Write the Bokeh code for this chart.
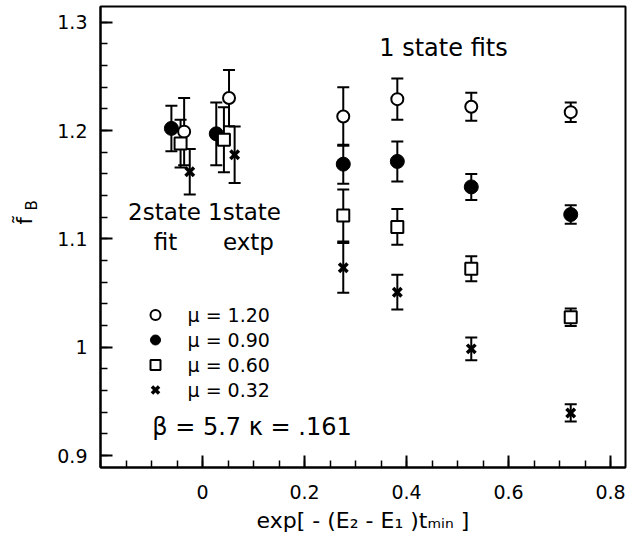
import math
from bokeh.plotting import figure
from bokeh.layouts import row
from bokeh.core.properties import value
from bokeh.models import (ColumnDataSource, Whisker, TeeHead, FixedTicker, CustomJSTickFormatter,
                          Label, Legend, LegendItem, Range1d)
from bokeh.embed import file_html
from bokeh.resources import INLINE

# ---------------- data ----------------
mu_labels = ["\u03bc = 1.20", "\u03bc = 0.90", "\u03bc = 0.60", "\u03bc = 0.32"]

mu120_x = [-0.036, 0.052, 0.276, 0.382, 0.527, 0.722]
mu120_y = [1.199, 1.230, 1.213, 1.229, 1.222, 1.217]
mu120_err = [0.031, 0.026, 0.027, 0.019, 0.013, 0.009]

mu090_x = [-0.061, 0.027, 0.276, 0.382, 0.527, 0.722]
mu090_y = [1.202, 1.197, 1.169, 1.1715, 1.148, 1.1225]
mu090_err = [0.021, 0.029, 0.018, 0.0185, 0.012, 0.0085]

mu060_x = [-0.043, 0.042, 0.276, 0.382, 0.527, 0.722]
mu060_y = [1.188, 1.1915, 1.1216, 1.111, 1.0724, 1.0277]
mu060_err = [0.022, 0.030, 0.024, 0.0165, 0.0115, 0.008]

mu032_x = [-0.025, 0.063, 0.276, 0.382, 0.527, 0.722]
mu032_y = [1.162, 1.1777, 1.0733, 1.0508, 0.9985, 0.9394]
mu032_err = [0.021, 0.026, 0.023, 0.016, 0.0105, 0.008]

x_major = [0, 0.2, 0.4, 0.6, 0.8]
x_minor = [round(-0.2 + 0.05 * i, 2) for i in range(21)]
y_major = [0.9, 1.0, 1.1, 1.2, 1.3]
y_minor = [round(0.9 + 0.02 * i, 2) for i in range(21)]

FONT = "DejaVu Sans"
H = 538
LW = 45  # width of the strip holding the y-axis title

# ---------------- y-axis title strip (f~ with subscript B) ----------------
ylab = figure(width=LW, height=H, x_range=Range1d(0, LW), y_range=Range1d(0, H),
              output_backend="svg", toolbar_location=None,
              x_axis_location=None, y_axis_location=None, min_border=0)
ylab.grid.visible = False
ylab.outline_line_color = None
ylab.background_fill_color = "white"
ylab.border_fill_color = "white"
ylab.text(x=[24.5], y=[H - 250.0], text=["f\u0303"], angle=math.pi / 2,
          text_font=value(FONT), text_font_size="21px", text_color="black",
          text_align="center", text_baseline="middle")
ylab.text(x=[31.0], y=[H - 232.0], text=["B"], angle=math.pi / 2,
          text_font=value(FONT), text_font_size="15px", text_color="black",
          text_align="center", text_baseline="middle")

# ---------------- main plot ----------------
p = figure(width=640 - LW, height=H,
           x_range=Range1d(-0.2, 0.8294), y_range=Range1d(0.889, 1.3145),
           output_backend="svg", toolbar_location=None,
           min_border_left=100 - LW, min_border_right=15, min_border_top=6, min_border_bottom=71)
p.grid.visible = False
p.background_fill_color = "white"
p.border_fill_color = "white"
p.outline_line_color = "black"
p.outline_line_width = 2

fmt = CustomJSTickFormatter(code="return String(Math.round(tick*100)/100);")

p.xaxis.ticker = FixedTicker(ticks=x_major, minor_ticks=x_minor)
p.yaxis.ticker = FixedTicker(ticks=y_major, minor_ticks=y_minor)
for ax in (p.xaxis[0], p.yaxis[0]):
    ax.formatter = fmt
    ax.axis_line_width = 2
    ax.axis_line_color = "black"
    ax.major_tick_in = 12
    ax.major_tick_out = 0
    ax.minor_tick_in = 7
    ax.minor_tick_out = 0
    ax.major_tick_line_width = 2
    ax.minor_tick_line_width = 1.5
    ax.major_tick_line_color = "black"
    ax.minor_tick_line_color = "black"
    ax.major_label_text_font = FONT
    ax.major_label_text_font_size = "19px"
    ax.major_label_text_color = "black"

p.yaxis.major_label_standoff = 13
p.xaxis.major_label_standoff = 17
p.xaxis.axis_label = "exp[ - (E\u2082 - E\u2081 )t\u2098\u1d62\u2099 ]"
p.xaxis.axis_label_text_font = FONT
p.xaxis.axis_label_text_font_size = "22px"
p.xaxis.axis_label_text_font_style = "normal"
p.xaxis.axis_label_text_color = "black"
p.xaxis.axis_label_standoff = 6
p.yaxis.axis_label = None

series = [
    (mu120_x, mu120_y, mu120_err, dict(marker="circle", size=12, fill_color="white", line_color="black", line_width=2)),
    (mu090_x, mu090_y, mu090_err, dict(marker="circle", size=14, fill_color="black", line_color="black", line_width=1)),
    (mu060_x, mu060_y, mu060_err, dict(marker="square", size=12, fill_color="white", line_color="black", line_width=2)),
    (mu032_x, mu032_y, mu032_err, dict(marker="x", size=12, line_color="black", line_width=3.5)),
]

renderers = []
for xs, ys, es, style in series:
    src = ColumnDataSource(dict(x=xs, y=ys,
                                lower=[a - b for a, b in zip(ys, es)],
                                upper=[a + b for a, b in zip(ys, es)]))
    w = Whisker(source=src, base="x", lower="lower", upper="upper",
                line_color="black", line_width=2,
                lower_head=TeeHead(size=12, line_width=2, line_color="black"),
                upper_head=TeeHead(size=12, line_width=2, line_color="black"))
    p.add_layout(w)
    r = p.scatter("x", "y", source=src, **style)
    renderers.append(r)

legend = Legend(items=[LegendItem(label=lab, renderers=[r]) for lab, r in zip(mu_labels, renderers)],
                location=(39.5, 65), padding=0, margin=0, spacing=0,
                glyph_width=30, glyph_height=25, label_height=25, label_standoff=18,
                label_text_font=FONT, label_text_font_size="19px", label_text_color="black",
                border_line_alpha=0, background_fill_alpha=0)
p.add_layout(legend, "center")

def lab(x, y, text, size, align="center"):
    p.add_layout(Label(x=x, y=y, text=text, text_font=FONT, text_font_size=size,
                       text_align=align, text_baseline="middle", text_color="black"))

lab(0.4725, 1.2758, "1 state fits", "24px")
lab(-0.0745, 1.1244, "2state", "23px")
lab(-0.0725, 1.0967, "fit", "23px")
lab(0.0824, 1.1244, "1state", "23px")
lab(0.0900, 1.0967, "extp", "23px")
lab(-0.0986, 0.9261, "\u03b2 = 5.7", "24px", align="left")
lab(0.0908, 0.9261, "\u03ba = .161", "24px", align="left")

layout = row(ylab, p, spacing=0)
open("out.html", "w").write(file_html(layout, INLINE))
